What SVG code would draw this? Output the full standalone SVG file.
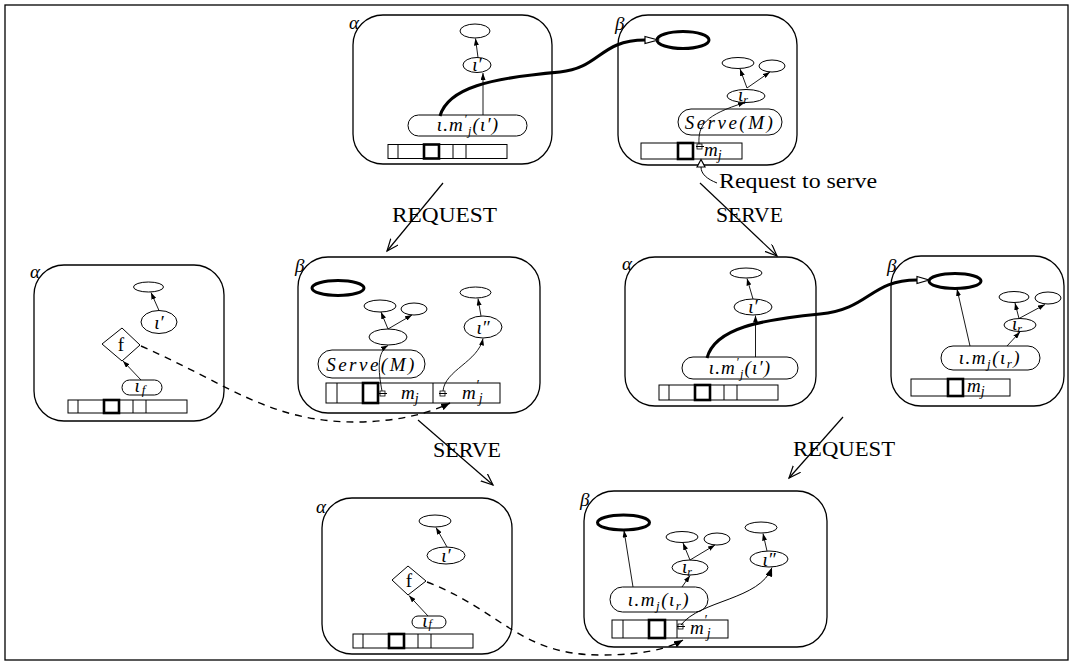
<svg xmlns="http://www.w3.org/2000/svg" width="1070" height="665" viewBox="0 0 1070 665">
<defs>
<style>
.frame{fill:#fff;stroke:#000;stroke-width:1.3}
.box{fill:none;stroke:#000;stroke-width:1.3}
.el{fill:#fff;stroke:#000;stroke-width:1}
.tk{fill:#fff;stroke:#000;stroke-width:3}
.pill{fill:#fff;stroke:#000;stroke-width:1}
.bar{fill:#fff;stroke:#000;stroke-width:1}
.dv{stroke:#000;stroke-width:1}
.bs{fill:none;stroke:#000;stroke-width:2.6}
.sq{fill:#fff;stroke:#000;stroke-width:0.8}
.ln{fill:none;stroke:#000;stroke-width:0.9;marker-end:url(#a)}
.ln2{fill:none;stroke:#000;stroke-width:1;marker-end:url(#b)}
.th{fill:none;stroke:#000;stroke-width:3}
.oh{fill:#fff;stroke:#000;stroke-width:1.2}
.ds{fill:none;stroke:#000;stroke-width:1.4;stroke-dasharray:7 6;marker-end:url(#b)}
.tr{fill:none;stroke:#000;stroke-width:1.2;marker-end:url(#v)}
.m{font-family:"Liberation Serif","DejaVu Serif",serif;font-style:italic;font-size:19px}
.l{font-family:"Liberation Serif","DejaVu Serif",serif;font-size:20px}
.f{font-family:"Liberation Serif","DejaVu Serif",serif;font-size:19px}
</style>
<marker id="a" markerUnits="userSpaceOnUse" markerWidth="7" markerHeight="5" refX="7" refY="2.5" orient="auto"><path d="M0,0 L7,2.5 L0,5 z" fill="#000"/></marker>
<marker id="b" markerUnits="userSpaceOnUse" markerWidth="9" markerHeight="7" refX="9" refY="3.5" orient="auto"><path d="M0,0 L9,3.5 L0,7 z" fill="#000"/></marker>
<marker id="v" markerUnits="userSpaceOnUse" markerWidth="14" markerHeight="12" refX="12" refY="5" orient="auto"><path d="M0,0 L12,5 L0,10" fill="none" stroke="#000" stroke-width="1.2"/></marker>
</defs>
<rect class="frame" x="5" y="5" width="1063" height="655"/>

<!-- Panel 1: alpha top -->
<g id="p1-alpha">
<rect class="box" x="353" y="15" width="199" height="149" rx="30"/>
<text class="m" x="349" y="29">α</text>
<ellipse class="el" cx="475" cy="31" rx="15" ry="7"/>
<ellipse class="el" cx="477" cy="65" rx="14" ry="7.5"/>
<text class="m" x="477" y="71" text-anchor="middle" font-size="16">ι′</text>
<rect class="pill" x="408" y="115" width="119" height="21" rx="10.5"/>
<text class="m" x="468" y="131" text-anchor="middle" font-size="20" letter-spacing="1.2">ι.m<tspan font-size="12" dy="-8">′</tspan><tspan font-size="12" dy="12">j</tspan><tspan dy="-4">(ι′)</tspan></text>
<rect class="bar" x="388" y="144.5" width="119" height="14"/>
<line class="dv" x1="398" y1="144.5" x2="398" y2="158.5"/>
<line class="dv" x1="453" y1="144.5" x2="453" y2="158.5"/>
<line class="dv" x1="466" y1="144.5" x2="466" y2="158.5"/>
<rect class="bs" x="424" y="144.5" width="15" height="14"/>
</g>

<!-- Panel 2: beta top -->
<g id="p2-beta">
<rect class="box" x="618" y="15" width="179" height="150" rx="30"/>
<text class="m" x="615" y="30">β</text>
<ellipse class="tk" cx="683" cy="40" rx="26" ry="8.5"/>
<ellipse class="el" cx="738" cy="63" rx="16" ry="5.5"/>
<ellipse class="el" cx="772" cy="66" rx="13" ry="6"/>
<ellipse class="el" cx="746" cy="96" rx="19" ry="6.5"/>
<text class="m" x="743" y="101" text-anchor="middle" font-size="17">ι<tspan font-size="12" dy="3">r</tspan></text>
<rect class="pill" x="678" y="109" width="104" height="26" rx="13"/>
<text class="m" x="730" y="129" text-anchor="middle" font-size="21" letter-spacing="2.5">Serve(M)</text>
<rect class="bar" x="641" y="143" width="101" height="16"/>
<rect class="bs" x="678" y="143" width="15" height="16"/>
<rect class="sq" x="697" y="144" width="5" height="5"/>
<line class="dv" x1="696" y1="146.5" x2="704" y2="146.5" stroke-width="0.8"/>
<text class="m" x="704" y="156" font-size="22">m<tspan font-size="14" dy="4">j</tspan></text>
</g>

<!-- Panel 3: alpha middle left -->
<g id="p3-alpha">
<rect class="box" x="34" y="265" width="190" height="156" rx="30"/>
<text class="m" x="30" y="278">α</text>
<ellipse class="el" cx="148.5" cy="287" rx="15" ry="5"/>
<ellipse class="el" cx="159" cy="322" rx="18" ry="11.5"/>
<text class="m" x="159" y="329" text-anchor="middle">ι′</text>
<polygon class="el" points="102,344 122,328 140,345 122,361"/>
<text class="f" x="121" y="351" text-anchor="middle">f</text>
<rect class="pill" x="122" y="380" width="40" height="15" rx="7.5"/>
<text class="m" x="140" y="392" text-anchor="middle" font-size="17">ι<tspan font-size="13" dx="2" dy="2">f</tspan></text>
<rect class="bar" x="68" y="400" width="119" height="13"/>
<line class="dv" x1="78" y1="400" x2="78" y2="413"/>
<line class="dv" x1="133" y1="400" x2="133" y2="413"/>
<line class="dv" x1="146" y1="400" x2="146" y2="413"/>
<rect class="bs" x="104" y="400" width="15" height="13"/>
</g>

<!-- Panel 4: beta middle -->
<g id="p4-beta">
<rect class="box" x="298" y="257" width="242" height="156" rx="30"/>
<text class="m" x="295" y="272">β</text>
<ellipse class="tk" cx="338" cy="288" rx="26" ry="7.5"/>
<ellipse class="el" cx="380" cy="306" rx="16" ry="6"/>
<ellipse class="el" cx="414" cy="309" rx="13" ry="6"/>
<ellipse class="el" cx="388" cy="337" rx="19" ry="8"/>
<ellipse class="el" cx="475.5" cy="292.5" rx="15.5" ry="5.5"/>
<ellipse class="el" cx="483" cy="327" rx="19" ry="11"/>
<text class="m" x="483" y="334" text-anchor="middle">ι″</text>
<rect class="pill" x="318" y="350" width="107" height="28" rx="14"/>
<text class="m" x="371.5" y="371" text-anchor="middle" font-size="21" letter-spacing="2.5">Serve(M)</text>
<rect class="bar" x="326" y="383" width="174" height="20"/>
<line class="dv" x1="337" y1="383" x2="337" y2="403"/>
<line class="dv" x1="433" y1="383" x2="433" y2="403"/>
<rect class="bs" x="363" y="383" width="15" height="20"/>
<rect class="sq" x="380" y="391" width="5" height="5"/>
<line class="dv" x1="379" y1="393.5" x2="387" y2="393.5" stroke-width="0.8"/>
<rect class="sq" x="440" y="391" width="5" height="5"/>
<line class="dv" x1="439" y1="393.5" x2="447" y2="393.5" stroke-width="0.8"/>
<text class="m" x="401" y="399" font-size="22">m<tspan font-size="14" dy="4">j</tspan></text>
<text class="m" x="462" y="399" font-size="22">m<tspan font-size="14" dy="-9">′</tspan><tspan font-size="14" dy="13">j</tspan></text>
</g>

<!-- Panel 5: alpha middle right -->
<g id="p5-alpha">
<rect class="box" x="625" y="257" width="191" height="149" rx="30"/>
<text class="m" x="622" y="270">α</text>
<ellipse class="el" cx="746" cy="273" rx="16" ry="5"/>
<ellipse class="el" cx="753" cy="307" rx="19" ry="8"/>
<text class="m" x="753" y="313" text-anchor="middle" font-size="16">ι′</text>
<rect class="pill" x="682" y="357" width="116" height="22" rx="11"/>
<text class="m" x="740" y="374" text-anchor="middle" font-size="20" letter-spacing="1.2">ι.m<tspan font-size="12" dy="-8">′</tspan><tspan font-size="12" dy="12">j</tspan><tspan dy="-4">(ι′)</tspan></text>
<rect class="bar" x="659" y="385" width="119" height="15"/>
<line class="dv" x1="669" y1="385" x2="669" y2="400"/>
<line class="dv" x1="724" y1="385" x2="724" y2="400"/>
<line class="dv" x1="737" y1="385" x2="737" y2="400"/>
<rect class="bs" x="695" y="385" width="15" height="15"/>
</g>

<!-- Panel 6: beta right -->
<g id="p6-beta">
<rect class="box" x="891" y="256" width="173" height="150" rx="30"/>
<text class="m" x="887" y="272">β</text>
<ellipse class="tk" cx="955" cy="281" rx="26" ry="7.5"/>
<ellipse class="el" cx="1014" cy="297" rx="15" ry="5.5"/>
<ellipse class="el" cx="1048" cy="298" rx="13" ry="6"/>
<ellipse class="el" cx="1020" cy="325" rx="16" ry="6.5"/>
<text class="m" x="1017" y="330" text-anchor="middle" font-size="17">ι<tspan font-size="12" dy="3">r</tspan></text>
<rect class="pill" x="941" y="346" width="99" height="24" rx="12"/>
<text class="m" x="990" y="364" text-anchor="middle" letter-spacing="1.5">ι.m<tspan font-size="13" dy="4">j</tspan><tspan dy="-4">(ι</tspan><tspan font-size="13" dy="4">r</tspan><tspan dy="-4">)</tspan></text>
<rect class="bar" x="911" y="379" width="99" height="17"/>
<rect class="bs" x="948" y="379" width="15" height="17"/>
<text class="m" x="967" y="392" font-size="22">m<tspan font-size="14" dy="4">j</tspan></text>
</g>

<!-- Panel 7: alpha bottom -->
<g id="p7-alpha">
<rect class="box" x="322" y="498" width="190" height="156" rx="30"/>
<text class="m" x="316" y="513">α</text>
<ellipse class="el" cx="435" cy="521" rx="16" ry="6"/>
<ellipse class="el" cx="446" cy="555.5" rx="19" ry="8.5"/>
<text class="m" x="446" y="562" text-anchor="middle">ι′</text>
<polygon class="el" points="392,580 408,566 426,581 408,595"/>
<text class="f" x="409" y="587" text-anchor="middle">f</text>
<rect class="pill" x="412" y="616" width="34" height="12" rx="6"/>
<text class="m" x="427" y="627" text-anchor="middle" font-size="15">ι<tspan font-size="12" dx="1" dy="1">f</tspan></text>
<rect class="bar" x="353" y="634" width="120" height="14"/>
<line class="dv" x1="363" y1="634" x2="363" y2="648"/>
<line class="dv" x1="418" y1="634" x2="418" y2="648"/>
<line class="dv" x1="431" y1="634" x2="431" y2="648"/>
<rect class="bs" x="389" y="634" width="15" height="14"/>
</g>

<!-- Panel 8: beta bottom -->
<g id="p8-beta">
<rect class="box" x="584" y="491" width="243" height="156" rx="30"/>
<text class="m" x="580" y="506">β</text>
<ellipse class="tk" cx="623.5" cy="522.5" rx="26" ry="7.5"/>
<ellipse class="el" cx="682" cy="537" rx="16" ry="5.5"/>
<ellipse class="el" cx="717" cy="539" rx="13" ry="6"/>
<ellipse class="el" cx="690" cy="567.5" rx="18" ry="7.5"/>
<text class="m" x="687" y="573" text-anchor="middle" font-size="17">ι<tspan font-size="12" dy="3">r</tspan></text>
<ellipse class="el" cx="761" cy="527.5" rx="16" ry="5.5"/>
<ellipse class="el" cx="769" cy="559" rx="19" ry="8"/>
<text class="m" x="769" y="566" text-anchor="middle">ι″</text>
<rect class="pill" x="610" y="587" width="98" height="25" rx="12.5"/>
<text class="m" x="659" y="606" text-anchor="middle" letter-spacing="1.5">ι.m<tspan font-size="13" dy="4">j</tspan><tspan dy="-4">(ι</tspan><tspan font-size="13" dy="4">r</tspan><tspan dy="-4">)</tspan></text>
<rect class="bar" x="612" y="620" width="116" height="18"/>
<line class="dv" x1="623" y1="620" x2="623" y2="638"/>
<line class="dv" x1="677" y1="620" x2="677" y2="638"/>
<rect class="bs" x="649" y="620" width="16" height="18"/>
<rect class="sq" x="678" y="624" width="5" height="5"/>
<line class="dv" x1="677" y1="626.5" x2="685" y2="626.5" stroke-width="0.8"/>
<text class="m" x="690" y="634" font-size="22">m<tspan font-size="14" dy="-9">′</tspan><tspan font-size="14" dy="13">j</tspan></text>
</g>

<!-- Labels -->
<g id="labels">
<text class="l" x="392" y="222" textLength="105" lengthAdjust="spacingAndGlyphs">REQUEST</text>
<text class="l" x="716" y="222" textLength="67" lengthAdjust="spacingAndGlyphs">SERVE</text>
<text class="l" x="433" y="457" textLength="68" lengthAdjust="spacingAndGlyphs">SERVE</text>
<text class="l" x="793" y="456" textLength="102" lengthAdjust="spacingAndGlyphs">REQUEST</text>
<text class="l" x="719" y="188" textLength="158" lengthAdjust="spacingAndGlyphs">Request to serve</text>
</g>

<!-- Connectors -->
<g id="connectors">
<line class="ln" x1="478" y1="57.5" x2="475.5" y2="38.5"/>
<line class="ln" x1="483" y1="115" x2="483" y2="73"/>
<line class="ln" x1="747" y1="88" x2="740" y2="69"/>
<line class="ln" x1="747" y1="88" x2="770" y2="72"/>
<path class="ln" d="M699 144 C698 125 705 115 745 102.5"/>
<path fill="none" stroke="#000" stroke-width="1" d="M717 183 C707 179 701 174 701 167"/>
<polygon class="oh" points="697,167 701,159.5 705,167"/>
<line class="ln" x1="159" y1="310.5" x2="151" y2="292.5"/>
<line class="ln" x1="141" y1="380" x2="123" y2="361"/>
<line class="ln" x1="388" y1="329" x2="381" y2="312"/>
<line class="ln" x1="388" y1="329" x2="412" y2="315"/>
<line class="ln" x1="481" y1="316" x2="478" y2="298.5"/>
<path class="ln" d="M382 391 C378 370 377 352 388 345.5"/>
<path class="ln" d="M443 391 C445 370 478 362 483 338.5"/>
<line class="ln" x1="753" y1="299" x2="747" y2="278.5"/>
<line class="ln" x1="755.5" y1="357" x2="755.5" y2="315.5"/>
<line class="ln" x1="1019" y1="318.5" x2="1015" y2="303"/>
<line class="ln" x1="1019" y1="318.5" x2="1045" y2="304.5"/>
<line class="ln" x1="970" y1="346" x2="957" y2="289"/>
<line class="ln" x1="1007" y1="346" x2="1020" y2="332"/>
<line class="ln" x1="447" y1="547" x2="436" y2="527.5"/>
<line class="ln" x1="428" y1="616" x2="409" y2="595.5"/>
<line class="ln" x1="690" y1="560" x2="683" y2="543"/>
<line class="ln" x1="690" y1="560" x2="715" y2="545"/>
<line class="ln" x1="767" y1="551" x2="763" y2="533.5"/>
<line class="ln" x1="633" y1="587" x2="624" y2="530.5"/>
<line class="ln" x1="682" y1="587" x2="690" y2="575.5"/>
<path class="ln2" d="M681 625 C700 600 760 600 772 567.5"/>
<path class="th" d="M440 116 C448 88 490 78 560 72 C600 68 600 40 645 40"/>
<polygon class="oh" points="645,36.5 658,40 645,43.5"/>
<path class="th" d="M707 358 C715 328 760 320 820 314 C870 309 870 280 917 280"/>
<polygon class="oh" points="917,276.5 929,280 917,283.5"/>
<path class="ds" d="M141 346 C230 385 270 423 360 422 C400 421 430 413 450 403"/>
<path class="ds" d="M427 582 C500 610 520 655 600 655 C640 655 665 650 683 640"/>
<line class="tr" x1="443" y1="183" x2="387" y2="251"/>
<line class="tr" x1="700" y1="183" x2="777" y2="256"/>
<line class="tr" x1="418" y1="420" x2="493" y2="485"/>
<line class="tr" x1="843" y1="417" x2="789" y2="478"/>
</g>
</svg>
